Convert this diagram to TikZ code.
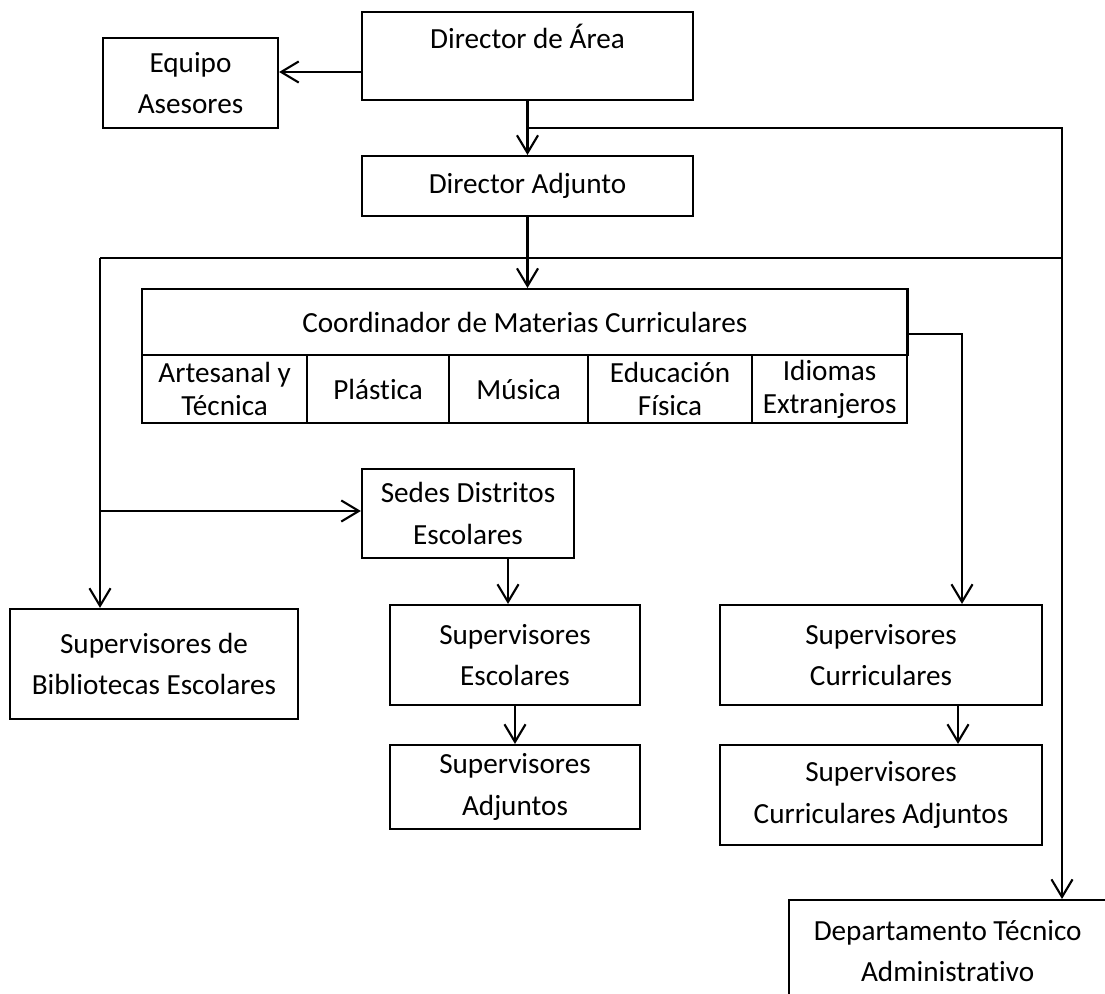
\documentclass[tikz,border=0pt]{standalone}
\usepackage{fontspec}
\setmainfont{Carlito}[Ligatures=NoCommon]
\usetikzlibrary{arrows.meta}

\begin{document}
\begin{tikzpicture}[x=0.01cm, y=-0.01cm, line width=0.6pt,
		>={Straight Barb[length=5pt,width=6pt]},
		caja/.style={draw, rectangle, inner sep=0pt, align=center, font=\fontsize{8.3pt}{11.8pt}\selectfont},
		celda/.style={caja, anchor=north west, minimum height=0.68cm, font=\fontsize{8.3pt}{9.4pt}\selectfont}]
	\clip (0,0) rectangle (1105,994);
	% direccion
	\node [caja, minimum width=3.31cm, minimum height=0.88cm, text height=5.7pt, text depth=10.2pt] (dir) at (527.5,56) {Director de Área};
	\node [caja, minimum width=1.75cm, minimum height=0.9cm] (ase) at (190.5,83) {Equipo\\Asesores};
	\node [caja, minimum width=3.31cm, minimum height=0.6cm] (adj) at (527.5,186) {Director Adjunto};
	% coordinador y sus materias
	\node [caja, anchor=north west, minimum width=7.65cm, minimum height=0.66cm] (coor) at (141,288) {Coordinador de Materias Curriculares};
	\node [celda, minimum width=1.65cm] (art) at (141,354) {Artesanal y\\Técnica};
	\node [celda, minimum width=1.42cm] (pla) at (306,354) {Plástica};
	\node [celda, minimum width=1.39cm] (mus) at (448,354) {Música};
	\node [celda, minimum width=1.64cm] (edu) at (587,354) {Educación\\Física};
	\node [celda, minimum width=1.55cm] (idi) at (751,354) {Idiomas\\Extranjeros};
	% distritos y supervisores
	\node [caja, minimum width=2.12cm, minimum height=0.89cm] (sedes) at (468,513.5) {Sedes Distritos\\Escolares};
	\node [caja, minimum width=2.88cm, minimum height=1.1cm] (bib) at (154,664) {Supervisores de\\Bibliotecas Escolares};
	\node [caja, minimum width=2.5cm, minimum height=1cm] (supesc) at (515,655) {Supervisores\\Escolares};
	\node [caja, minimum width=2.5cm, minimum height=0.84cm] (supadj) at (515,787) {Supervisores\\Adjuntos};
	\node [caja, minimum width=3.22cm, minimum height=1cm] (supcur) at (881,655) {Supervisores\\Curriculares};
	\node [caja, minimum width=3.22cm, minimum height=1cm] (supcuradj) at (881,795) {Supervisores\\Curriculares Adjuntos};
	\node [caja, anchor=north west, minimum width=3.17cm, minimum height=1.02cm] (dept) at (788,899) {Departamento Técnico\\Administrativo};
	% puntos de las lineas
	\coordinate (rt) at (1062,128);
	\coordinate (lf) at (100,258);
	\coordinate (cr) at (962,334);
	% flechas
	\draw [->] (dir.west |- 0,72) -- (ase.east |- 0,72);
	\draw [->] (dir.south) -- (adj.north);
	\draw [->] (dir.south |- rt) -- (rt) -- (rt |- dept.north);
	\draw [->] (adj.south) -- (adj.south |- coor.north);
	\draw (lf) -- (lf -| rt);
	\draw [->] (lf) -- (lf |- bib.north);
	\draw [->] (lf |- 0,511) -- (sedes.west |- 0,511);
	\draw [->] (coor.east |- cr) -- (cr) -- (cr |- supcur.north);
	\draw [->] (508,0 |- sedes.south) -- (508,0 |- supesc.north);
	\draw [->] (supesc.south) -- (supadj.north);
	\draw [->] (958,0 |- supcur.south) -- (958,0 |- supcuradj.north);
\end{tikzpicture}
\end{document}
